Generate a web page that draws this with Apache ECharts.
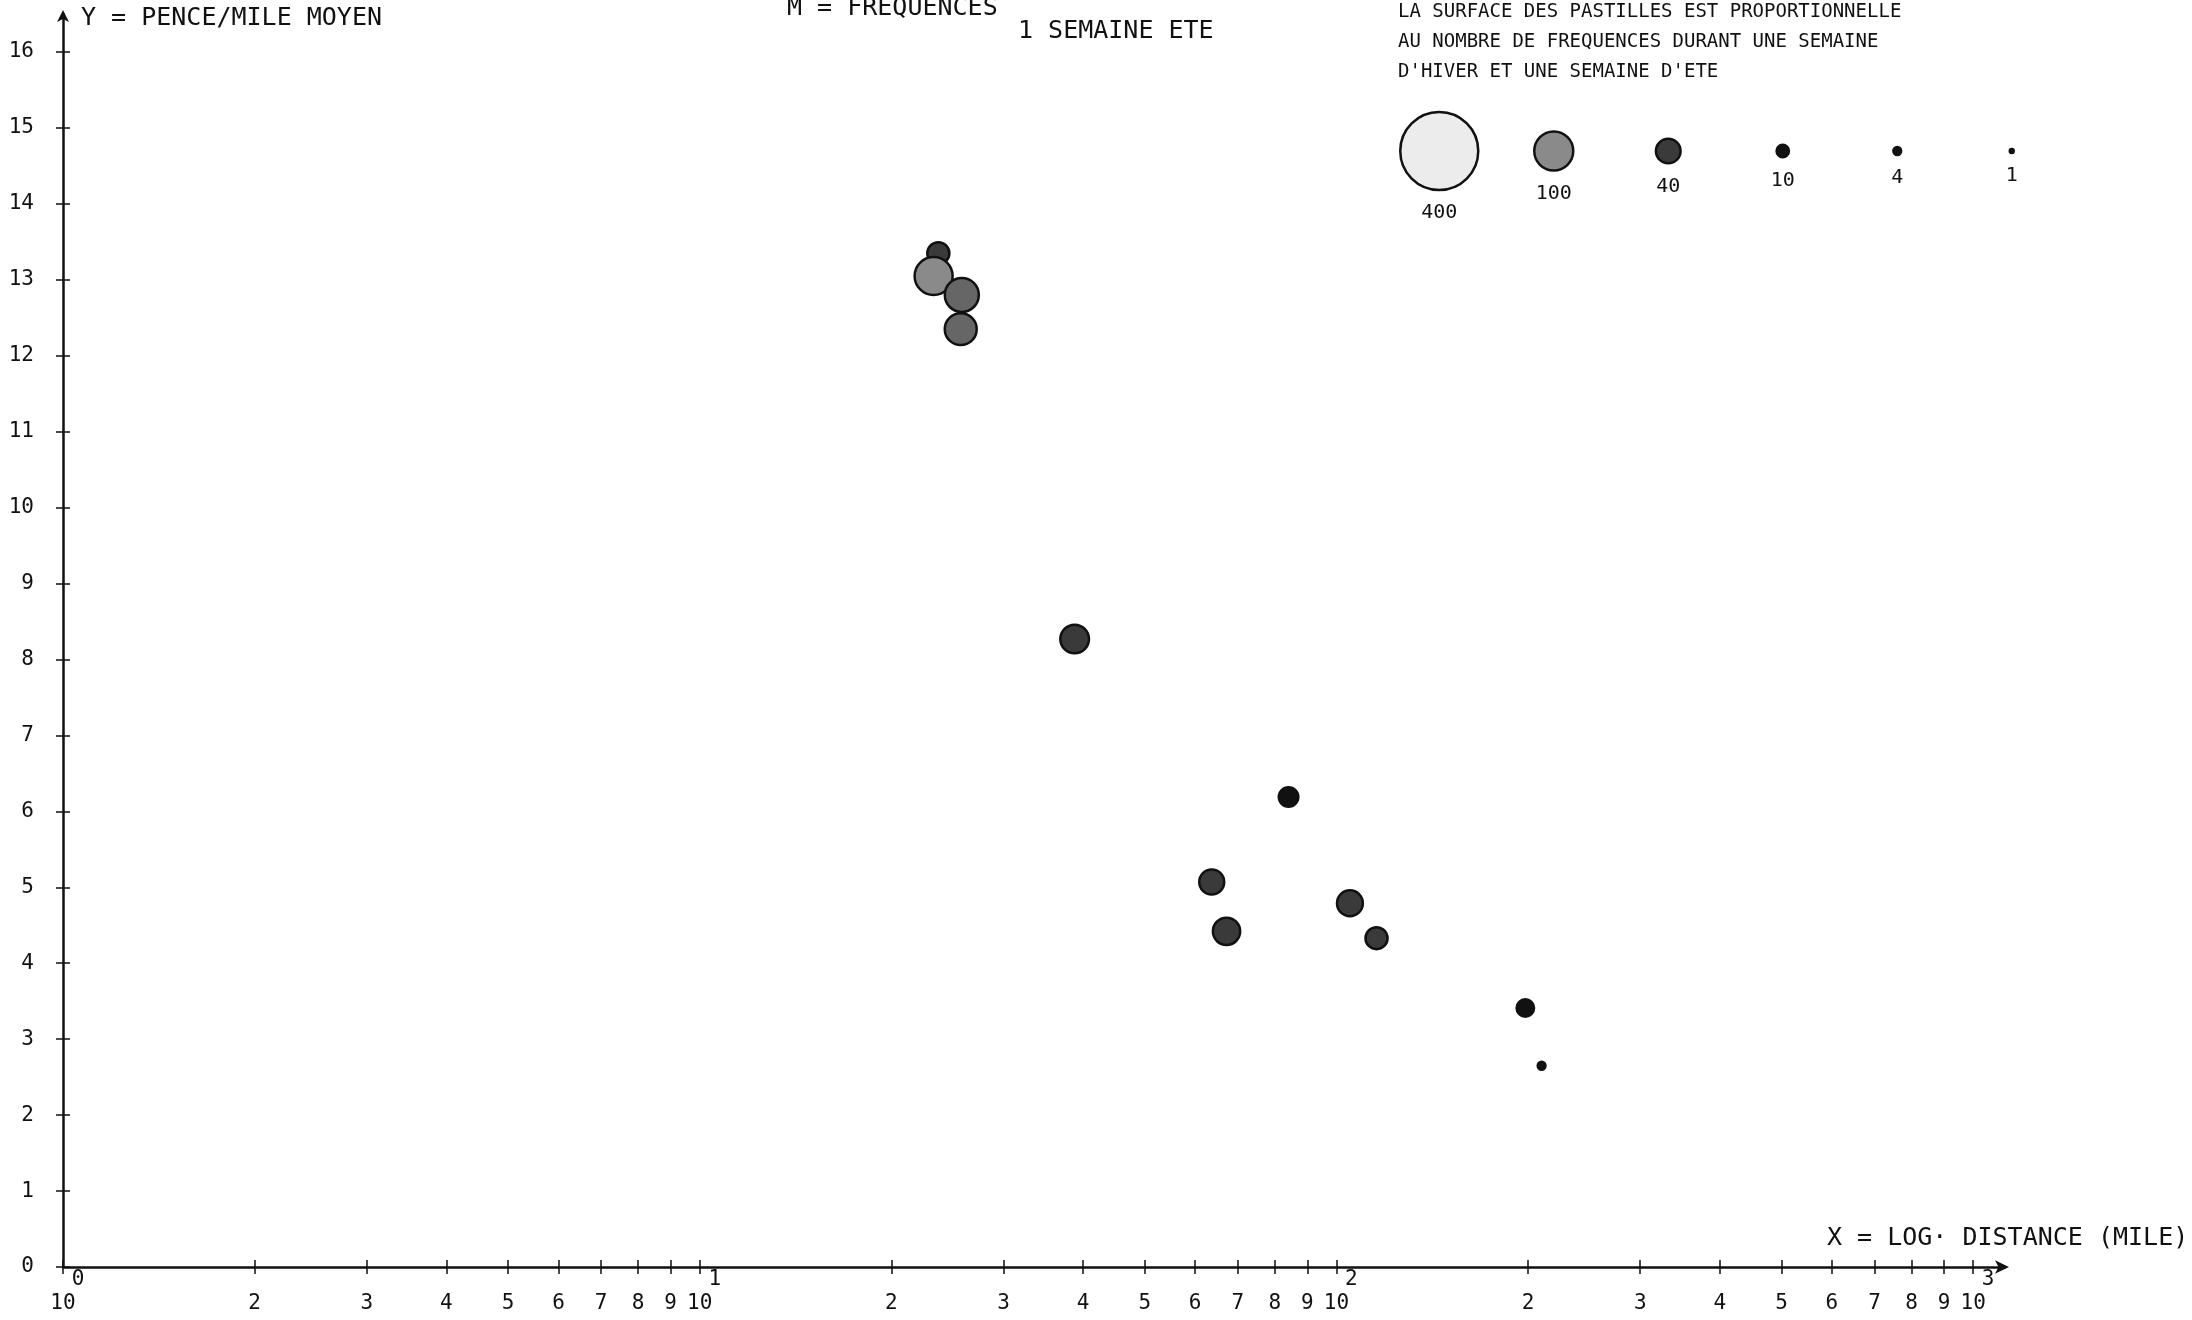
<!DOCTYPE html>
<html>
<head>
<meta charset="utf-8">
<title>Pence/mile moyen - distance</title>
<script src="https://cdn.jsdelivr.net/npm/echarts@6/dist/echarts.min.js"></script>
<style>
html, body { margin: 0; padding: 0; background: #fff; }
#chart { width: 2192px; height: 1320px; }
</style>
</head>
<body>
<div id="chart"></div>
<script>
// distance (mile), pence/mile moyen, nombre de frequences (hiver + ete)
const distances  = [23.7, 23.3, 25.8, 25.7, 38.8, 84.1, 63.7, 67.2, 105, 115.6, 198, 210];
const penceMile  = [13.35, 13.05, 12.8, 12.35, 8.27, 6.19, 5.07, 4.42, 4.79, 4.33, 3.41, 2.65];
const frequences = [32, 95, 76, 67, 54, 25, 41, 49, 44, 32, 20, 4];

// legende des pastilles
const legendSizes = [400, 100, 40, 10, 4, 1];

// graduations
const yTicks = [0, 1, 2, 3, 4, 5, 6, 7, 8, 9, 10, 11, 12, 13, 14, 15, 16];
const xTicks = [1, 2, 3, 4, 5, 6, 7, 8, 9,
                10, 20, 30, 40, 50, 60, 70, 80, 90,
                100, 200, 300, 400, 500, 600, 700, 800, 900, 1000];

const FONT = '"DejaVu Sans Mono", "Liberation Mono", monospace';
const INK = '#111';

// surface proportionnelle au nombre de frequences
function bubbleSize(n) {
  return 3.9 * Math.sqrt(n);
}
function bubbleFill(n) {
  if (n >= 300) return '#ececec';
  if (n >= 80) return '#8a8a8a';
  if (n >= 60) return '#666666';
  if (n >= 30) return '#3a3a3a';
  return '#111111';
}

const xTickLog = xTicks.map(v => Math.log10(v));
const points = distances.map((d, i) => [Math.log10(d), penceMile[i], frequences[i]]);

function xLabel(v) {
  const e = Math.floor(v + 1e-9);
  const m = Math.round(Math.pow(10, v - e));
  if (m === 1) return '{e|' + e + '}\n{n|10}';
  return '{s| }\n{n|' + m + '}';
}

const chart = echarts.init(document.getElementById('chart'));
chart.setOption({
  animation: false,
  backgroundColor: '#fff',
  grid: [
    { left: 63, right: 187, top: 14, bottom: 53, containLabel: false, outerBoundsMode: 'none' },
    { left: 1382, width: 687, top: 141, height: 20, containLabel: false, outerBoundsMode: 'none' }
  ],
  xAxis: [{
    type: 'value',
    gridIndex: 0,
    min: 0,
    max: 3.05,
    axisLine: {
      show: true,
      lineStyle: { color: INK, width: 2.5 },
      symbol: ['none', 'arrow'],
      symbolSize: [10, 14],
      symbolOffset: [0, 4]
    },
    axisTick: { show: true, length: 7, customValues: xTickLog, lineStyle: { color: INK, width: 1.5 } },
    axisLabel: {
      customValues: xTickLog,
      hideOverlap: false,
      margin: 2,
      formatter: xLabel,
      rich: {
        e: { fontFamily: FONT, fontSize: 21, color: INK, lineHeight: 22, padding: [0, 0, 0, 30] },
        s: { fontFamily: FONT, fontSize: 21, color: INK, lineHeight: 22 },
        n: { fontFamily: FONT, fontSize: 21, color: INK, lineHeight: 26 }
      }
    },
    splitLine: { show: false }
  }, {
    type: 'value',
    gridIndex: 0,
    min: 0,
    max: 3.05,
    position: 'bottom',
    axisLine: { show: false },
    axisTick: { show: true, inside: true, length: 7, customValues: xTickLog, lineStyle: { color: INK, width: 1.5 } },
    axisLabel: { show: false },
    splitLine: { show: false }
  }, {
    type: 'category',
    gridIndex: 1,
    data: legendSizes.map(String),
    show: false
  }],
  yAxis: [{
    type: 'value',
    gridIndex: 0,
    min: 0,
    max: 16.5,
    axisLine: {
      show: true,
      lineStyle: { color: INK, width: 2.5 },
      symbol: ['none', 'arrow'],
      symbolSize: [9, 12],
      symbolOffset: [0, 4]
    },
    axisTick: { show: true, length: 7, customValues: yTicks, lineStyle: { color: INK, width: 1.5 } },
    axisLabel: {
      customValues: yTicks,
      margin: 29,
      fontFamily: FONT,
      fontSize: 21,
      color: INK
    },
    splitLine: { show: false }
  }, {
    type: 'value',
    gridIndex: 0,
    min: 0,
    max: 16.5,
    position: 'left',
    axisLine: { show: false },
    axisTick: { show: true, inside: true, length: 7, customValues: yTicks, lineStyle: { color: INK, width: 1.5 } },
    axisLabel: { show: false },
    splitLine: { show: false }
  }, {
    type: 'value',
    gridIndex: 1,
    min: 0,
    max: 1,
    show: false
  }],
  graphic: [
    { type: 'text', left: 81, top: 6, style: { text: 'Y = PENCE/MILE MOYEN', font: '25px ' + FONT, fill: INK } },
    { type: 'text', left: 787, top: -4, style: { text: 'M = FREQUENCES', font: '25px ' + FONT, fill: INK } },
    { type: 'text', left: 1016, top: -23, style: { text: '1 SEMAINE HIVER +', font: '25px ' + FONT, fill: INK } },
    { type: 'text', left: 1018, top: 19, style: { text: '1 SEMAINE ETE', font: '25px ' + FONT, fill: INK } },
    { type: 'text', left: 1398, top: 3, style: { text: 'LA SURFACE DES PASTILLES EST PROPORTIONNELLE', font: '19px ' + FONT, fill: INK } },
    { type: 'text', left: 1398, top: 33, style: { text: 'AU NOMBRE DE FREQUENCES DURANT UNE SEMAINE', font: '19px ' + FONT, fill: INK } },
    { type: 'text', left: 1398, top: 63, style: { text: "D'HIVER ET UNE SEMAINE D'ETE", font: '19px ' + FONT, fill: INK } },
    { type: 'text', left: 1827, top: 1226, style: { text: 'X = LOG\u00b7 DISTANCE (MILE)', font: '25px ' + FONT, fill: INK } }
  ],
  series: [{
    type: 'scatter',
    xAxisIndex: 0,
    yAxisIndex: 0,
    data: points,
    symbol: 'circle',
    symbolSize: val => bubbleSize(val[2]),
    itemStyle: {
      color: p => bubbleFill(p.value[2]),
      borderColor: INK,
      borderWidth: 2.5,
      opacity: 1
    },
    emphasis: { disabled: true }
  }, {
    type: 'scatter',
    xAxisIndex: 2,
    yAxisIndex: 2,
    data: legendSizes.map((n, i) => [i, 0.5, n]),
    symbol: 'circle',
    symbolSize: val => bubbleSize(val[2]),
    itemStyle: {
      color: p => bubbleFill(p.value[2]),
      borderColor: INK,
      borderWidth: 2.5,
      opacity: 1
    },
    label: {
      show: true,
      position: 'bottom',
      distance: 12,
      formatter: p => String(p.value[2]),
      fontFamily: FONT,
      fontSize: 20,
      color: INK
    },
    emphasis: { disabled: true }
  }]
});
</script>
</body>
</html>
